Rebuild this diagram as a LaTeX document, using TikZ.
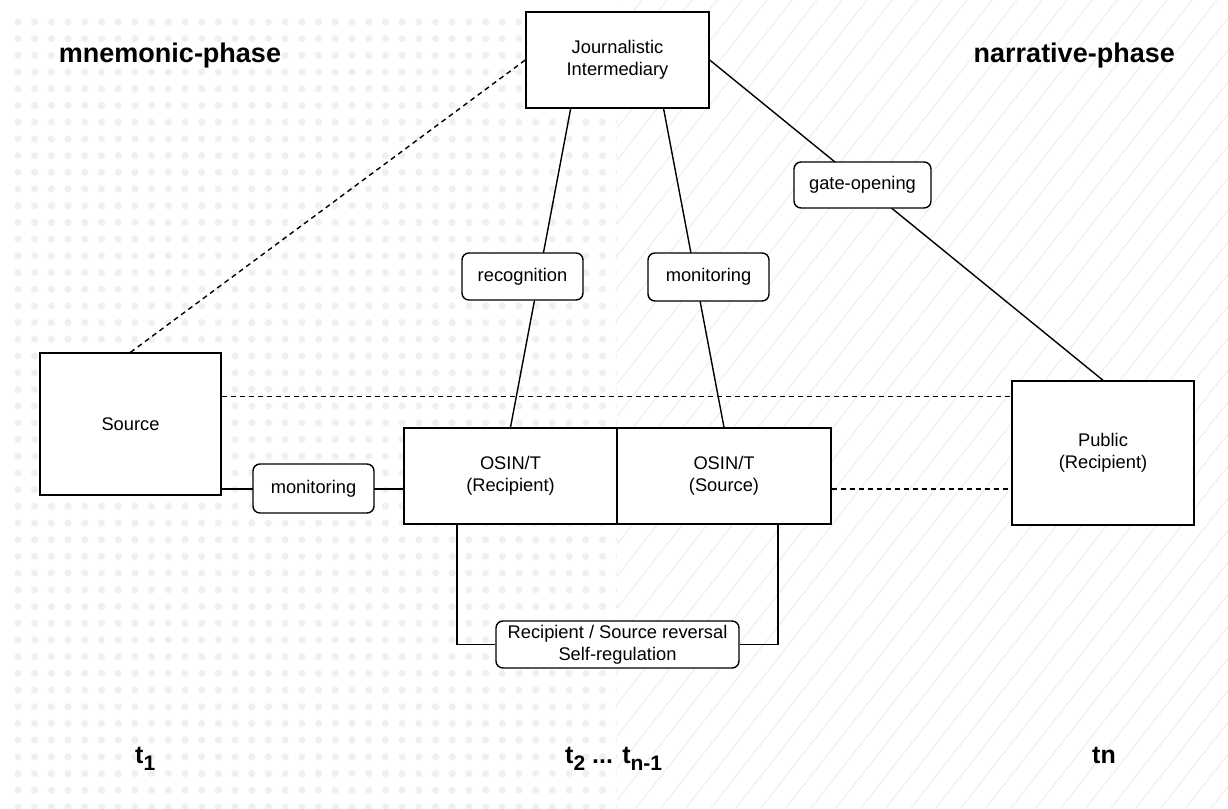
\documentclass[tikz,border=0pt]{standalone}
\usepackage{fontspec}
\setmainfont{Liberation Sans}
\usetikzlibrary{calc}
\definecolor{dotc}{RGB}{240,240,240}
\definecolor{hatchc}{RGB}{238,238,238}
\newcommand\nodefont{\fontsize{18.3}{22}\selectfont}
\newcommand\tsub[1]{\raisebox{-0.3em}{\fontsize{21}{21}\selectfont #1}}
\tikzset{
  box/.style={draw, fill=white, line width=1.4pt, inner sep=0pt, align=center, font=\nodefont},
  lbl/.style={box, rounded corners=7pt},
  conn/.style={line width=1.4pt},
  dconn/.style={line width=1.4pt, dash pattern=on 5pt off 4pt},
  phase/.style={font=\fontsize{27}{32}\selectfont\bfseries, inner sep=0pt},
  tlab/.style={font=\fontsize{25}{30}\selectfont\bfseries, inner sep=0pt}
}
\begin{document}
\begin{tikzpicture}[x=1pt,y=-1pt]
\useasboundingbox (0,0) rectangle (1228,808);
\fill[white] (0,0) rectangle (1228,808);
% dotted background (left)
\begin{scope}
\clip (0,0) rectangle (617,808);
\foreach \i in {0,...,36} {
  \foreach \j in {0,...,47} {
    \fill[dotc] (18+16.7*\i, 22+16.7*\j) circle (3.6);
  }
}
\end{scope}
% hatched background (right)
\begin{scope}
\clip (617,0) rectangle (1228,808);
\foreach \k in {0,...,52} {
  \draw[hatchc, line width=1.1pt] (-14+25*\k, 808) -- ++(631,-808);
}
\end{scope}

% phase titles
\node[phase, anchor=base] (mph) at (170,63) {mnemonic-phase};
\node[phase, anchor=base east] (nph) at (1175,63) {narrative-phase};

% time labels
\node[tlab, anchor=base west] (t1) at (135,763) {t\tsub{1}};
\node[tlab, anchor=base west] (t2) at (565,763) {t\tsub{2} ... t\tsub{n-1}};
\node[tlab, anchor=base west] (tn) at (1092,763) {tn};

% main boxes
\node[box, minimum width=183pt, minimum height=96pt] (ji) at (617.5,60) {Journalistic\\Intermediary};
\node[box, minimum width=181pt, minimum height=142pt] (src) at (130.5,424) {Source};
\node[box, minimum width=213pt, minimum height=96pt] (orec) at (510.5,476) {OSIN/T\\(Recipient)};
\node[box, minimum width=214pt, minimum height=96pt] (osrc) at (724,476) {OSIN/T\\(Source)};
\node[box, minimum width=182pt, minimum height=144pt] (pub) at (1103,453) {Public\\(Recipient)};

% connectors
\draw[conn] ($(ji.south west)!0.246!(ji.south east)$) -- (orec.north);
\draw[conn] ($(ji.south west)!0.75!(ji.south east)$) -- (osrc.north);
\draw[conn] (ji.east) -- (pub.north);
\draw[dconn] (src.north) -- (ji.west);
\draw[dconn] ($(src.north east)+(0,44)$) -- (pub.west |- {$(src.north east)+(0,44)$});
\draw[dconn] ($(osrc.east)+(0,13)$) -- (pub.west |- {$(osrc.east)+(0,13)$});
\draw[conn] ($(src.east |- orec.west)+(0,13)$) -- ($(orec.west)+(0,13)$);
\coordinate (brL) at ($(orec.south west)!0.25!(orec.south east)$);
\coordinate (brR) at ($(osrc.south west)!0.75!(osrc.south east)$);

% label boxes
\node[lbl, minimum width=121pt, minimum height=49pt] (monL) at (313.5,488.5) {monitoring};
\node[lbl, minimum width=121pt, minimum height=47pt] (rec) at (522.5,276.5) {recognition};
\node[lbl, minimum width=121pt, minimum height=48pt] (monM) at (708.5,277) {monitoring};
\node[lbl, minimum width=137pt, minimum height=46pt] (gate) at (862.5,185) {gate-opening};
\node[lbl, minimum width=243pt, minimum height=47pt] (rev) at (617.5,644.5) {Recipient / Source reversal\\Self-regulation};

\draw[conn] (brL) -- (brL |- rev.west) -- (rev.west);
\draw[conn] (rev.east) -- (brR |- rev.east) -- (brR);
\end{tikzpicture}
\end{document}
